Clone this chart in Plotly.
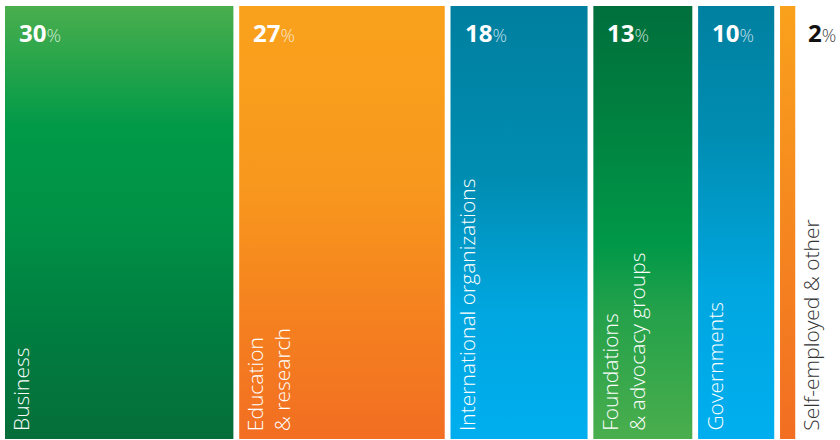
import plotly.graph_objects as go

categories = ["Business", "Education<br>& research", "International organizations",
              "Foundations<br>& advocacy groups", "Governments", "Self-employed & other"]
values = [30, 27, 18, 13, 10, 2]
pct_labels = ["30", "27", "18", "13", "10", "2"]

colorscales = [
    [[0, "#066e3a"], [0.25, "#007d40"], [0.5, "#009146"], [0.72, "#009a48"], [1, "#4aae4d"]],
    [[0, "#f26e22"], [0.3, "#f5821f"], [0.6, "#f8991d"], [1, "#f9a11c"]],
    [[0, "#00aeef"], [0.3, "#00a6df"], [0.6, "#008db2"], [1, "#007f9f"]],
    [[0, "#4aae4d"], [0.3, "#23a14a"], [0.45, "#009848"], [0.75, "#00803f"], [1, "#006f3c"]],
    [[0, "#00aeef"], [0.35, "#00a6df"], [0.7, "#008db2"], [1, "#0080a0"]],
    [[0, "#f26e22"], [0.5, "#f5871f"], [1, "#f9a11c"]],
]
inside = [True, True, True, True, True, False]

GAP = 0.76
fig = go.Figure()
lefts = []
pos = 0.0
for v in values:
    lefts.append(pos)
    pos += v + GAP
total = pos - GAP + 0.23

for cat, v, x0, cs in zip(categories, values, lefts, colorscales):
    x1 = x0 + v
    fig.add_trace(go.Scatter(
        x=[x0, x1, x1, x0, x0], y=[0, 0, 1, 1, 0],
        mode="lines", line=dict(width=0), fill="toself",
        fillgradient=dict(type="vertical", colorscale=cs, start=0, stop=1),
        hoverinfo="skip", showlegend=False,
    ))

FONT = "Open Sans, Noto Sans, sans-serif"
for cat, v, x0, p, ins in zip(categories, values, lefts, pct_labels, inside):
    col = "white" if ins else "#111111"
    pcol = "rgba(255,255,255,0.78)" if ins else "#444444"
    fig.add_annotation(
        x=x0 if ins else x0 + v, xref="x", y=1, yref="y",
        xanchor="left", yanchor="middle",
        xshift=12 if ins else 11, yshift=-26,
        text=f"<b>{p}</b><span style='font-size:18px;font-weight:300;color:{pcol}'>%</span>",
        showarrow=False, font=dict(family=FONT, size=24, color=col),
    )
    fig.add_annotation(
        x=x0 if ins else x0 + v, xref="x", y=0, yref="y",
        xanchor="left", yanchor="bottom",
        xshift=0 if ins else -1, yshift=6,
        text=cat, textangle=-90, align="left",
        showarrow=False, font=dict(family=FONT, size=21, color="white" if ins else "#333333", weight=300),
    )

fig.update_layout(
    width=840, height=440,
    margin=dict(l=5, r=43, t=6, b=1),
    paper_bgcolor="white", plot_bgcolor="white",
    xaxis=dict(range=[0, total], visible=False, fixedrange=True),
    yaxis=dict(range=[0, 1], visible=False, fixedrange=True),
)
fig.write_html("out.html", config={"displayModeBar": False},
               post_script="document.body.style.margin='0';document.body.style.overflow='hidden';")
